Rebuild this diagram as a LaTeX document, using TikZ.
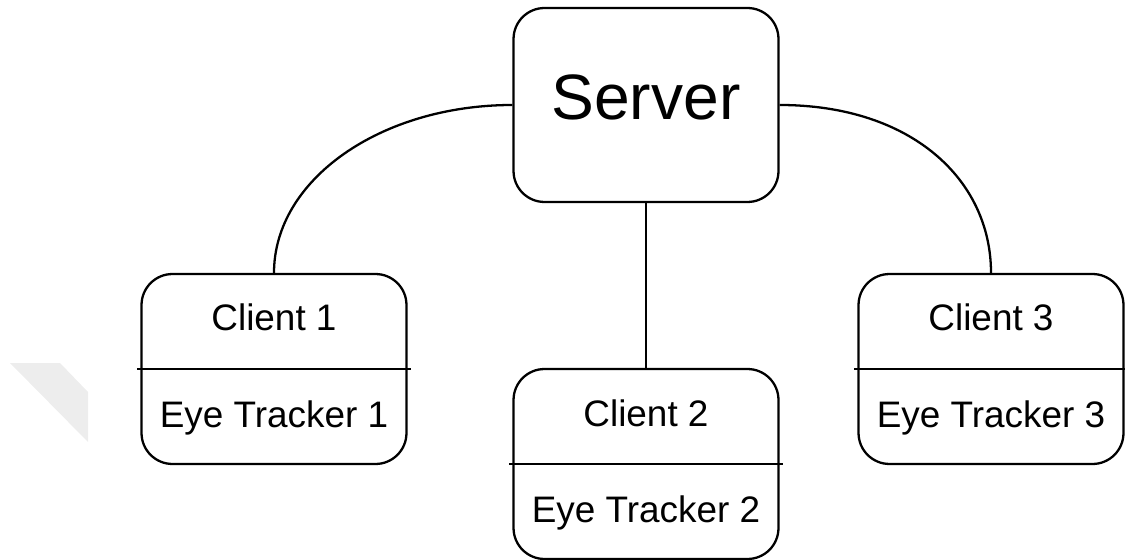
\documentclass[tikz,border=0pt]{standalone}
\usepackage{fontspec}
\setmainfont{Liberation Sans}
\usepackage{tikz}
\usetikzlibrary{positioning, calc}

\tikzset{
  box/.style={draw, line width=1.3pt, rounded corners=0.62cm, minimum width=5.3cm, minimum height=3.8cm},
  link/.style={line width=1.3pt},
  label/.style={anchor=base, font=\fontsize{21}{25}\selectfont}
}

\begin{document}
\begin{tikzpicture}[x=0.02cm, y=-0.02cm]
      \useasboundingbox (0,0) rectangle (1125,560);

      % faint mark at the left edge
      \fill [black!7] (10,363) -- (60,363) -- (88,392) -- (88,442) -- cycle;

      % server
      \node [box, minimum height=3.88cm] (server) at (646,105) {};
      \node [anchor=base, font=\fontsize{36.5}{42}\selectfont] (servertext) at ($(server.center)+(0,15)$) {Server};

      % clients
      \node [box] (client1) at (274,369) {};
      \node [box] (client2) at (646,464) {};
      \node [box] (client3) at (991,369) {};

      \foreach \i in {1,2,3} {
        \node [label] (client\i top) at ($(client\i.center)+(0,-38)$) {Client \i};
        \node [label] (client\i bottom) at ($(client\i.center)+(0,58)$) {Eye Tracker \i};
        \draw [link] ($(client\i.west)+(-3,0)$) -- ($(client\i.east)+(3,0)$);
      }

      % connections
      \draw [link] (server.west) .. controls +(-132,0) and +(0,-93) .. (client1.north);
      \draw [link] (server.east) .. controls +(132,0) and +(0,-93) .. (client3.north);
      \draw [link] (server.south) -- (client2.north);
    \end{tikzpicture}
\end{document}
